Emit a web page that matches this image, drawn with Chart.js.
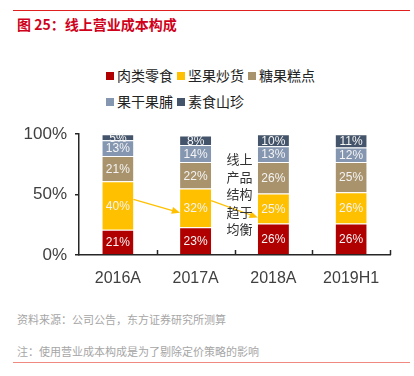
<!DOCTYPE html>
<html>
<head>
<meta charset="utf-8">
<script src="https://cdn.jsdelivr.net/npm/chart.js@4"></script>
<style>
  body { margin: 0; background: #fff; font-family: "Noto Sans CJK SC", sans-serif; }
  #page { position: relative; width: 414px; height: 376px; overflow: hidden; }
  .rule { position: absolute; left: 13px; width: 397px; height: 1px; }
  #title { position: absolute; left: 17px; top: 14px; font-size: 14px; font-weight: bold; color: #d0021b; }
  #legend { position: absolute; left: 106px; top: 63px; width: 280px; font-size: 14px; color: #222; }
  #legend .item { display: inline-block; margin-right: 4px; height: 26px; line-height: 24px; }
  #legend .box { display: inline-block; width: 8px; height: 8px; margin-right: 3px; vertical-align: 1px; }
  #wrap { position: absolute; left: 0; top: 116px; width: 414px; height: 180px; }
  .foot { position: absolute; left: 17px; font-size: 11px; color: #a6a6a6; }
</style>
</head>
<body>
<div id="page">
  <div class="rule" style="top:10px;background:#e0201f;"></div>
  <div id="title">图 25：线上营业成本构成</div>
  <div id="legend"></div>
  <div id="wrap"><canvas id="myChart" width="414" height="180"></canvas></div>
  <div class="foot" style="top:311px;">资料来源：公司公告，东方证券研究所测算</div>
  <div class="foot" style="top:343px;">注：使用营业成本构成是为了剔除定价策略的影响</div>
  <div class="rule" style="top:362px;background:#f08a80;"></div>
</div>
<script>
var categories = ['2016A', '2017A', '2018A', '2019H1'];
var seriesNames = ['肉类零食', '坚果炒货', '糖果糕点', '果干果脯', '素食山珍'];
var meat = [21, 23, 26, 26];
var nuts = [40, 32, 25, 26];
var candy = [21, 22, 26, 25];
var dried = [13, 14, 13, 12];
var veg = [5, 8, 10, 11];
var colors = ['#b00000', '#ffc000', '#a8936d', '#8496b0', '#44546a'];
var yTicks = [0, 50, 100];
var noteLines = ['线上', '产品', '结构', '趋于', '均衡'];
// arrows: [from category index, from value, to category index, to value]
var arrows = [[0, 46, 1, 35], [1, 45, 2, 31]];

var allSeries = [meat, nuts, candy, dried, veg];

// html legend
var legendHtml = '';
for (var i = 0; i < seriesNames.length; i++) {
    legendHtml += '<span class="item"><span class="box" style="background:' + colors[i] + '"></span>' + seriesNames[i] + '</span>';
    if (i === 2) legendHtml += '<br>';
}
document.getElementById('legend').innerHTML = legendHtml;

var datasets = allSeries.map(function (vals, i) {
    return {
        label: seriesNames[i],
        data: vals,
        backgroundColor: colors[i],
        borderColor: 'rgba(255,255,255,0.5)',
        borderWidth: { top: 1 },
        barPercentage: 0.4,
        categoryPercentage: 1
    };
});

var barLabels = {
    id: 'barLabels',
    afterDatasetsDraw: function (chart) {
        var ctx = chart.ctx;
        ctx.save();
        ctx.fillStyle = '#f4f4f4';
        ctx.font = '12px "Liberation Sans", sans-serif';
        ctx.textAlign = 'center';
        ctx.textBaseline = 'middle';
        chart.data.datasets.forEach(function (ds, di) {
            chart.getDatasetMeta(di).data.forEach(function (bar, j) {
                var p = bar.getProps(['x', 'y', 'base'], true);
                ctx.fillText(ds.data[j] + '%', p.x, (p.y + p.base) / 2 + 1);
            });
        });
        ctx.restore();
    }
};

var extras = {
    id: 'extras',
    afterDraw: function (chart) {
        var ctx = chart.ctx;
        var xs = chart.scales.x, ys = chart.scales.y;
        var area = chart.chartArea;
        var half = (xs.getPixelForValue(1) - xs.getPixelForValue(0)) * 0.2;
        ctx.save();
        // axis ticks on x axis, pointing up
        ctx.strokeStyle = '#262626';
        ctx.lineWidth = 1.5;
        for (var k = 1; k <= categories.length; k++) {
            var tx = Math.round(xs.getPixelForValue(k - 0.5)) + 0.5;
            ctx.beginPath();
            ctx.moveTo(tx, area.bottom);
            ctx.lineTo(tx, area.bottom - 5);
            ctx.stroke();
        }
        // arrows
        ctx.strokeStyle = '#ffc000';
        ctx.fillStyle = '#ffc000';
        ctx.lineWidth = 1.3;
        arrows.forEach(function (a) {
            var x1 = xs.getPixelForValue(a[0]) + half, y1 = ys.getPixelForValue(a[1]);
            var x2 = xs.getPixelForValue(a[2]) - half, y2 = ys.getPixelForValue(a[3]);
            var ang = Math.atan2(y2 - y1, x2 - x1);
            ctx.beginPath();
            ctx.moveTo(x1, y1);
            ctx.lineTo(x2 - 6 * Math.cos(ang), y2 - 6 * Math.sin(ang));
            ctx.stroke();
            ctx.beginPath();
            ctx.moveTo(x2, y2);
            ctx.lineTo(x2 - 9 * Math.cos(ang - 0.4), y2 - 9 * Math.sin(ang - 0.4));
            ctx.lineTo(x2 - 9 * Math.cos(ang + 0.4), y2 - 9 * Math.sin(ang + 0.4));
            ctx.closePath();
            ctx.fill();
        });
        // note text between 2017A and 2018A
        ctx.fillStyle = '#333333';
        ctx.font = '13px "Noto Sans CJK SC", sans-serif';
        ctx.textAlign = 'left';
        ctx.textBaseline = 'middle';
        var nx = xs.getPixelForValue(1.5) - 8;
        noteLines.forEach(function (t, i) {
            ctx.fillText(t, nx, area.top + 25 + i * 17.5);
        });
        ctx.restore();
    }
};

var ctx = document.getElementById('myChart').getContext('2d');
var myChart = new Chart(ctx, {
    type: 'bar',
    data: { labels: categories, datasets: datasets },
    options: {
        responsive: false,
        animation: false,
        layout: { padding: { top: 14, right: 24, left: 0, bottom: 0 } },
        plugins: { legend: { display: false }, tooltip: { enabled: false } },
        scales: {
            x: {
                stacked: true,
                grid: { display: false },
                border: { color: '#262626', width: 1.5 },
                ticks: { color: '#404040', font: { size: 16, family: '"Liberation Sans", sans-serif' }, padding: 6 },
                afterFit: function (s) { s.height = 41; }
            },
            y: {
                stacked: true,
                min: 0,
                max: 100,
                afterBuildTicks: function (s) { s.ticks = yTicks.map(function (v) { return { value: v }; }); },
                grid: { drawOnChartArea: false, tickLength: 4, color: '#262626', lineWidth: 1.5 },
                border: { color: '#262626', width: 1.5 },
                ticks: {
                    color: '#404040',
                    font: { size: 17, family: '"Liberation Sans", sans-serif' },
                    padding: 8,
                    callback: function (v) { return v + '%'; }
                },
                afterFit: function (s) { s.width = 79; }
            }
        }
    },
    plugins: [barLabels, extras]
});
</script>
</body>
</html>
